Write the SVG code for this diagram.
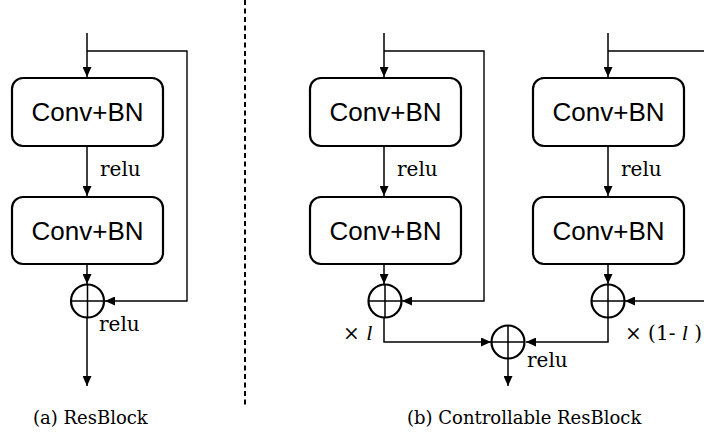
<svg xmlns="http://www.w3.org/2000/svg" width="704" height="436" viewBox="0 0 704 436">
<style>
.box{fill:#fff;stroke:#000;stroke-width:2.2}
.bt{font-family:"Liberation Sans",Arial,sans-serif;font-size:26px;text-anchor:middle;fill:#000}
.ln{fill:none;stroke:#000;stroke-width:1.5}
.sk{fill:none;stroke:#000;stroke-width:1.4}
.sum{fill:#fff;stroke:#000;stroke-width:2.2}
.lb{font-family:"DejaVu Serif","Liberation Serif",serif;font-size:20px;fill:#000}
.cap{font-family:"DejaVu Serif","Liberation Serif",serif;font-size:18px;fill:#000}
.it{font-family:"Liberation Serif",serif;font-style:italic;font-size:22px}
</style>
<defs>
<marker id="ah" viewBox="0 0 10 9" refX="10" refY="4.5" markerWidth="10" markerHeight="9" markerUnits="userSpaceOnUse" orient="auto">
<path d="M0,0 L10,4.5 L0,9 z" fill="#000"/>
</marker>
</defs>
<g id="connectors">
<path class="ln" d="M87,33 V77" marker-end="url(#ah)"/>
<path class="sk" d="M87,51 H187 V301 H105" marker-end="url(#ah)"/>
<path class="ln" d="M87,146 V196" marker-end="url(#ah)"/>
<path class="ln" d="M87,264 V284" marker-end="url(#ah)"/>
<path class="ln" d="M87,317 V386" marker-end="url(#ah)"/>
<path class="ln" d="M384,33 V77" marker-end="url(#ah)"/>
<path class="sk" d="M384,51 H484 V301 H402" marker-end="url(#ah)"/>
<path class="ln" d="M384,146 V196" marker-end="url(#ah)"/>
<path class="ln" d="M384,264 V284" marker-end="url(#ah)"/>
<path class="ln" d="M608,33 V77" marker-end="url(#ah)"/>
<path class="sk" d="M608,51 H706 V301 H625" marker-end="url(#ah)"/>
<path class="ln" d="M608,146 V196" marker-end="url(#ah)"/>
<path class="ln" d="M608,264 V284" marker-end="url(#ah)"/>
<path class="ln" d="M384,318 V342 H491" marker-end="url(#ah)"/>
<path class="ln" d="M608,318 V342 H526" marker-end="url(#ah)"/>
<path class="ln" d="M508,358 V386" marker-end="url(#ah)"/>
</g>
<line x1="245" y1="0" x2="245" y2="405" stroke="#000" stroke-width="2" stroke-dasharray="5,3.5"/>
<g id="a-conv1"><rect class="box" x="12" y="78" width="151" height="68" rx="11"/><text class="bt" x="87.5" y="121">Conv+BN</text></g>
<g id="a-conv2"><rect class="box" x="12" y="197" width="151" height="67" rx="11"/><text class="bt" x="87.5" y="240">Conv+BN</text></g>
<g id="a-sum"><circle class="sum" cx="87.5" cy="301" r="16.5"/><path class="ln" d="M71,301 H104 M87.5,284.5 V317.5" stroke-width="2"/></g>
<g id="b-conv1"><rect class="box" x="310" y="78" width="151" height="68" rx="11"/><text class="bt" x="385.5" y="121">Conv+BN</text></g>
<g id="b-conv2"><rect class="box" x="310" y="197" width="151" height="67" rx="11"/><text class="bt" x="385.5" y="240">Conv+BN</text></g>
<g id="b-sum1"><circle class="sum" cx="385" cy="301" r="16.5"/><path class="ln" d="M368.5,301 H401.5 M385,284.5 V317.5" stroke-width="2"/></g>
<g id="c-conv1"><rect class="box" x="533" y="78" width="151" height="68" rx="11"/><text class="bt" x="608.5" y="121">Conv+BN</text></g>
<g id="c-conv2"><rect class="box" x="533" y="197" width="151" height="67" rx="11"/><text class="bt" x="608.5" y="240">Conv+BN</text></g>
<g id="c-sum1"><circle class="sum" cx="608" cy="301" r="16.5"/><path class="ln" d="M591.5,301 H624.5 M608,284.5 V317.5" stroke-width="2"/></g>
<g id="m-sum"><circle class="sum" cx="508" cy="342" r="16.5"/><path class="ln" d="M491.5,342 H524.5 M508,325.5 V358.5" stroke-width="2"/></g>
<g id="labels">
<text class="lb" x="100" y="176">relu</text>
<text class="lb" x="99" y="331">relu</text>
<text class="lb" x="397" y="176">relu</text>
<text class="lb" x="621" y="176">relu</text>
<text class="lb" x="527" y="367">relu</text>
<text class="lb" x="343" y="340">× <tspan class="it">l</tspan></text>
<text class="lb" x="625" y="340">× (1- <tspan class="it">l</tspan> )</text>
<text class="cap" x="33" y="424">(a) ResBlock</text>
<text class="cap" x="407" y="424">(b) Controllable ResBlock</text>
</g>
</svg>
